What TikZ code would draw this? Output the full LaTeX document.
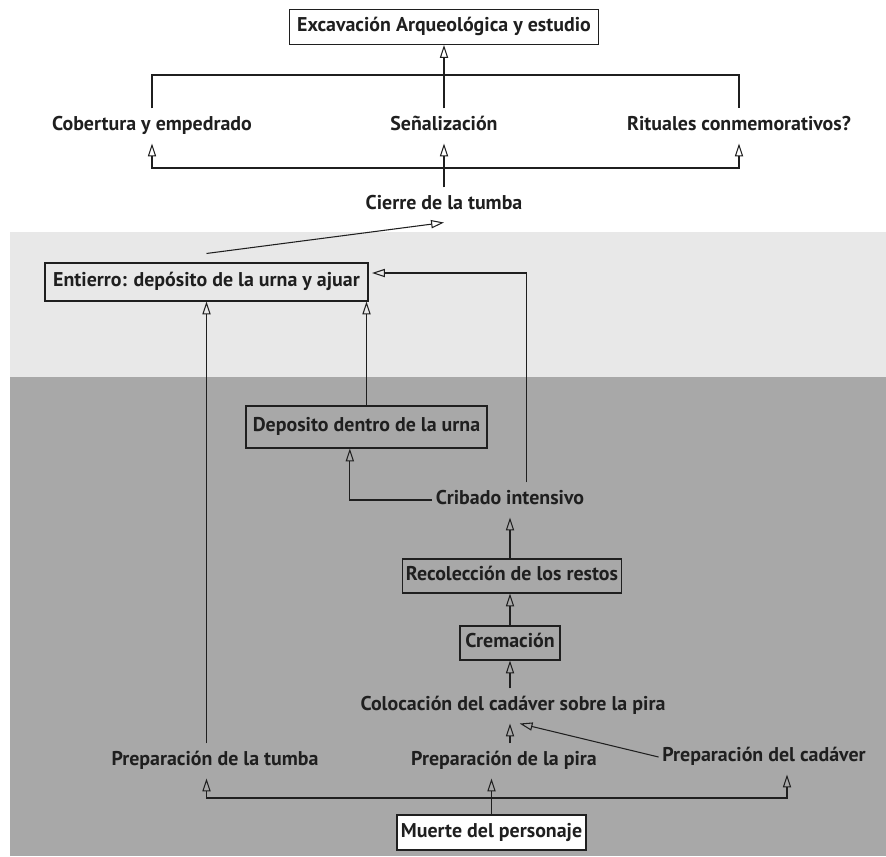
\documentclass[tikz,border=0pt]{standalone}
\usepackage{fontspec}
\setmainfont{PT Sans}
\usetikzlibrary{arrows.meta}
\definecolor{banda}{gray}{0.91}
\definecolor{fondo}{gray}{0.66}
\definecolor{tinta}{gray}{0.12}
\begin{document}
\begin{tikzpicture}[x=0.03cm,y=-0.03cm,
		texto/.style={font=\fontsize{17}{20}\selectfont\bfseries, text=tinta,
			text height=12pt, text depth=3.5pt, inner xsep=3pt, inner ysep=7pt},
		caja/.style={texto, draw=tinta, line width=0.9pt, inner ysep=0pt},
		flecha/.style={draw=tinta, line width=0.9pt,
			-{Triangle[open,length=11pt,width=7pt]}},
		linea/.style={draw=tinta, line width=0.9pt}]
	\useasboundingbox (0,0) rectangle (886,856);
	% Fondos
	\fill[white] (0,0) rectangle (886,856);
	\fill[banda] (10,232) rectangle (886,377);
	\fill[fondo] (10,377) rectangle (886,856);

	% Definir los nodos
	\node[caja, fill=white, minimum width=9.27cm, minimum height=1.05cm] (exc) at (444,27) {Excavación Arqueológica y estudio};
	\node[texto] (cob) at (152,126) {Cobertura y empedrado};
	\node[texto] (sen) at (444,126) {Señalización};
	\node[texto] (rit) at (739,126) {Rituales conmemorativos?};
	\node[texto] (cie) at (444,205) {Cierre de la tumba};
	\node[caja, minimum width=9.69cm, minimum height=1.14cm] (ent) at (206.5,282) {Entierro: depósito de la urna y ajuar};
	\node[caja, minimum width=7.23cm, minimum height=1.26cm] (dep) at (366.5,427) {Deposito dentro de la urna};
	\node[texto] (cri) at (510,500) {Cribado intensivo};
	\node[caja, minimum width=6.54cm, minimum height=1.02cm] (rec) at (512,576) {Recolección de los restos};
	\node[caja, minimum width=3cm, minimum height=1.02cm] (cre) at (510,643) {Cremación};
	\node[texto] (col) at (513,706) {Colocación del cadáver sobre la pira};
	\node[texto] (ptu) at (215,761) {Preparación de la tumba};
	\node[texto] (ppi) at (504,761) {Preparación de la pira};
	\node[texto] (pca) at (764,757) {Preparación del cadáver};
	\node[caja, fill=white, minimum width=5.67cm, minimum height=1.05cm] (mue) at (491.5,832.5) {Muerte del personaje};
	\coordinate (sup) at (444,75);
	\coordinate (inf) at (444,168);
	\coordinate (base) at (491.5,798);

	% Conexiones
	\draw[flecha] (sen.north) -- (exc.south);
	\draw[linea] (cob.north) |- (sup) -| (rit.north);
	\draw[flecha] (cie.north) -- (sen.south);
	\draw[flecha] (inf) -| (cob.south);
	\draw[flecha] (inf) -| (rit.south);
	\draw[flecha] ([yshift=0.27cm]ent.north) -- (cie.south);
	\draw[flecha] (ptu.north -| ent.south) -- (ent.south);
	\draw[flecha] (dep.north) -- (dep.north |- ent.south);
	\draw[flecha, shorten >=3pt] ([xshift=0.5cm]cri.north) |- ([yshift=0.27cm]ent.east);
	\draw[flecha] (cri.west) -| ([xshift=-0.5cm]dep.south);
	\draw[flecha] (rec.north -| cri.south) -- (cri.south);
	\draw[flecha] (cre) -- (cre |- rec.south);
	\draw[flecha] (col.north -| cre) -- (cre.south);
	\draw[flecha] (ppi.north -| cre) -- (col.south -| cre);
	\draw[flecha] (pca.west) -- ([xshift=0.2cm]col.south);
	\draw[flecha] (mue.north) -- (mue.north |- ppi.south);
	\draw[flecha] (base) -| (ptu.south -| ent.south);
	\draw[flecha] (base) -| ([xshift=0.69cm]pca.south);
\end{tikzpicture}
\end{document}
